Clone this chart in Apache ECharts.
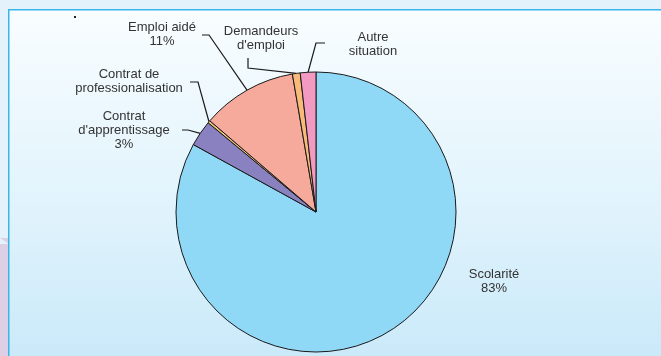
<!DOCTYPE html>
<html>
<head>
<meta charset="utf-8">
<script src="https://cdn.jsdelivr.net/npm/echarts@6/dist/echarts.min.js"></script>
<style>
  html, body { margin: 0; padding: 0; background: #e4f3fb; }
  #chart { width: 661px; height: 356px; }
</style>
</head>
<body>
<div id="chart"></div>
<script>
// Situation des jeunes : répartition en pourcentage
const categories = [
  'Scolarité',
  "Contrat d'apprentissage",
  'Contrat de professionalisation',
  'Emploi aidé',
  "Demandeurs d'emploi",
  'Autre situation'
];
const values = [83, 3, 0.3, 11, 0.9, 1.8];
const labelTexts = [
  'Scolarité\n83%',
  "Contrat\nd'apprentissage\n3%",
  'Contrat de\nprofessionalisation',
  'Emploi aidé\n11%',
  "Demandeurs\nd'emploi",
  'Autre\nsituation'
];
const colors = ['#8fd8f6', '#8a82c0', '#f2c27a', '#f6aa9c', '#f9b978', '#f29ac2'];

const CX = 316, CY = 212, R = 140;

// Where each label block sits (centre) and how its leader line bends
const labelPlacement = [
  { x: 494, y: 281, line: null },
  { x: 124, y: 130, line: [[188, 130], [182, 130]] },
  { x: 129, y: 81,  line: [[198, 82], [190, 82]] },
  { x: 162, y: 34,  line: [[209, 35], [202, 35]] },
  { x: 261, y: 38,  line: [[248, 68], [248, 58]] },
  { x: 373, y: 44,  line: [[316, 43], [325, 43]] }
];

// Mid-angle point on the rim of each slice (clockwise from 12 o'clock)
const total = values.reduce((a, b) => a + b, 0);
const rimPoints = [];
let acc = 0;
values.forEach(v => {
  const mid = (acc + v / 2) / total * Math.PI * 2;
  rimPoints.push([CX + R * Math.sin(mid), CY - R * Math.cos(mid)]);
  acc += v;
});

const chart = echarts.init(document.getElementById('chart'), null, { renderer: 'canvas' });

chart.setOption({
  animation: false,
  backgroundColor: 'transparent',
  graphic: [
    {
      type: 'rect', z: -10, silent: true,
      shape: { x: 0, y: 238, width: 9, height: 130 },
      style: { fill: '#dccfe6' }
    },
    {
      type: 'polygon', z: -10, silent: true,
      shape: { points: [[0, 238], [9, 244], [0, 244]] },
      style: { fill: '#e4f3fb' }
    },
    {
      type: 'rect', z: -9, silent: true,
      shape: { x: 8.75, y: 9.75, width: 700, height: 400 },
      style: {
        fill: {
          type: 'linear', x: 0, y: 0, x2: 0, y2: 1, global: false,
          colorStops: [
            { offset: 0, color: '#f9fdff' },
            { offset: 0.5, color: '#e0f3fc' },
            { offset: 1, color: '#c2e6f8' }
          ]
        },
        stroke: '#38b6e8', lineWidth: 1.5
      }
    },
    {
      type: 'rect', z: 5, silent: true,
      shape: { x: 74, y: 16, width: 2, height: 2 },
      style: { fill: '#222' }
    }
  ],
  series: [{
    type: 'pie',
    center: [CX, CY],
    radius: R,
    startAngle: 90,
    clockwise: true,
    avoidLabelOverlap: false,
    minAngle: 0,
    itemStyle: { borderColor: '#1a1a1a', borderWidth: 1 },
    label: {
      show: true,
      position: 'outside',
      color: '#333',
      fontFamily: 'Liberation Sans, Arial, sans-serif',
      fontSize: 13,
      lineHeight: 14,
      align: 'center',
      formatter: p => labelTexts[p.dataIndex]
    },
    labelLine: {
      show: true,
      lineStyle: { color: '#1a1a1a', width: 1.2 }
    },
    labelLayout: params => {
      const i = params.dataIndex;
      const pl = labelPlacement[i];
      const out = {
        x: pl.x,
        y: pl.y,
        align: 'center',
        verticalAlign: 'middle'
      };
      if (pl.line) {
        out.labelLinePoints = [rimPoints[i], pl.line[0], pl.line[1]];
      } else {
        out.labelLinePoints = [[CX, CY], [CX, CY], [CX, CY]];
      }
      return out;
    },
    emphasis: { disabled: true },
    data: categories.map((name, i) => ({
      name: name,
      value: values[i],
      itemStyle: { color: colors[i] },
      labelLine: { show: labelPlacement[i].line !== null }
    }))
  }]
});
</script>
</body>
</html>
